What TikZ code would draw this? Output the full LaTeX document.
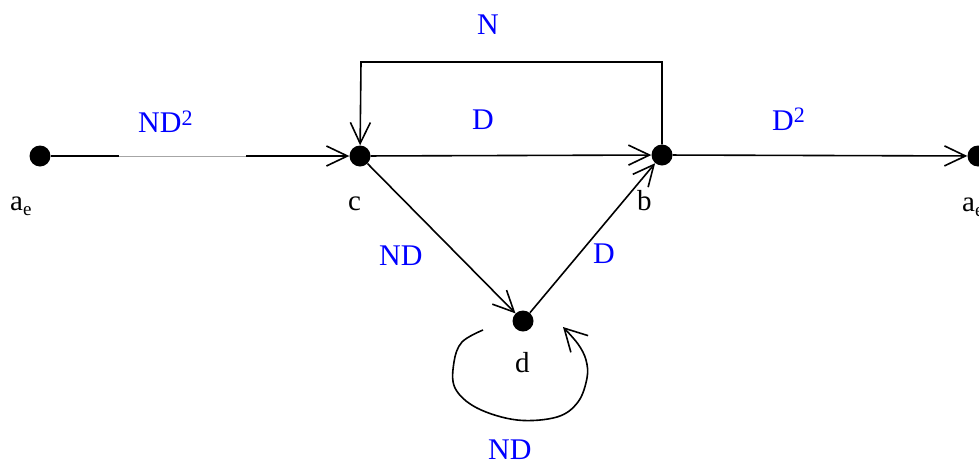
\documentclass[tikz,border=0pt]{standalone}
\usepackage{fontspec}
\setmainfont{Liberation Serif}
\usetikzlibrary{arrows.meta}
\begin{document}
\begin{tikzpicture}[x=1pt,y=-1pt,
  dot/.style={circle,fill=black,inner sep=0pt,minimum size=21pt},
  edge/.style={line width=1.6pt,-{Straight Barb[length=21pt,width=20pt,line width=1.6pt]}},
  plain/.style={line width=1.6pt},
  faint/.style={line width=0.8pt,color=black!35},
  lbl/.style={anchor=base west,inner sep=0pt,text=blue,font=\fontsize{30}{30}\selectfont},
  nlbl/.style={anchor=base west,inner sep=0pt,font=\fontsize{29}{29}\selectfont},
  loopedge/.style={line width=1.6pt,-{Straight Barb[length=22pt,width=24pt,line width=1.6pt]}}
]
\useasboundingbox (0,0) rectangle (979,461);
% nodes
\node[dot] (ae1) at (40,156) {};
\node[dot] (c) at (360,156) {};
\node[dot] (b) at (662,155) {};
\node[dot] (d) at (523,321) {};
\node[dot] (ae2) at (978,156) {};
\coordinate (g1) at (119,156);
\coordinate (g2) at (246,156);
\coordinate (tl) at (361,62);
\coordinate (tr) at (662,62);
% connectors
\draw[plain] (ae1) -- (g1);
\draw[faint] (g1) -- (g2);
\draw[edge] (g2) -- (c);
\draw[edge] (b.north) -- (tr) -- (tl) -- (c);
\draw[edge] (c) -- (b);
\draw[edge] (c) -- (d);
\draw[edge] (d) -- (b);
\draw[edge] (b) -- (ae2);
% self loop at d
\draw[loopedge] plot[smooth,tension=0.6] coordinates {(483,330) (462,342) (454,362) (455,388) (477,408) (517,420) (557,417) (578,402) (587,378) (586,360) (578,344) (563,327)};
% labels
\node[lbl] (l1) at (138,132) {ND\raisebox{7pt}{\fontsize{22}{22}\selectfont 2}};
\node[lbl] (l2) at (477,34) {N};
\node[lbl] (l3) at (472,129) {D};
\node[lbl] (l4) at (772,130) {D\raisebox{8pt}{\fontsize{22}{22}\selectfont 2}};
\node[lbl] (l5) at (379,265) {ND};
\node[lbl] (l6) at (593,263) {D};
\node[lbl] (l7) at (488,459) {ND};
\node[nlbl] (t1) at (10,210) {a\raisebox{-5pt}{\fontsize{19}{19}\selectfont e}};
\node[nlbl] (t2) at (348,210) {c};
\node[nlbl] (t3) at (637,210) {b};
\node[nlbl] (t4) at (515,372) {d};
\node[nlbl] (t5) at (962,211) {a\raisebox{-5pt}{\fontsize{19}{19}\selectfont e}};
\end{tikzpicture}
\end{document}
